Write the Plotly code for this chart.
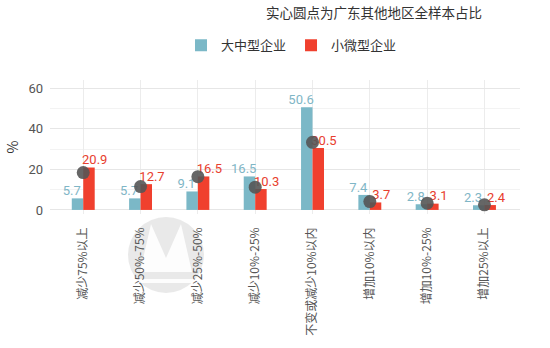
import numpy as np
import plotly.graph_objects as go

# Categories (change range of revenue) and series values, in %
categories = ["减少75%以上", "减少50%-75%", "减少25%-50%", "减少10%-25%",
              "不变或减少10%以内", "增加10%以内", "增加10%-25%", "增加25%以上"]
large_medium = [5.7, 5.7, 9.1, 16.5, 50.6, 7.4, 2.8, 2.3]
small_micro = [20.9, 12.7, 16.5, 10.3, 30.5, 3.7, 3.1, 2.4]
# Whole-sample share for other regions of Guangdong (solid dots)
other_regions = [18.4, 11.5, 16.4, 11.2, 33.3, 4.1, 3.3, 2.5]
y_ticks = [0, 20, 40, 60]

BLUE = "#7bb8c7"
RED = "#f0402e"
BLUE_TXT = "#7fb6c6"
RED_TXT = "#e8402e"
DOT = "#555555"

x = np.arange(len(categories))
CJK = "Noto Sans CJK SC"
NUM = "Roboto"

fig = go.Figure()
fig.add_trace(go.Bar(x=x, y=large_medium, name="大中型企业", marker_color=BLUE,
                     marker_line_width=0, hoverinfo="skip"))
fig.add_trace(go.Bar(x=x, y=small_micro, name="小微型企业", marker_color=RED,
                     marker_line_width=0, hoverinfo="skip"))

# value labels, dodged slightly wider than the bars
fig.add_trace(go.Scatter(x=x - 0.2, y=large_medium, mode="text",
                         text=[f"{v:g}" for v in large_medium], textposition="top center",
                         textfont=dict(color=BLUE_TXT, size=13, family=NUM),
                         showlegend=False, hoverinfo="skip"))
fig.add_trace(go.Scatter(x=x + 0.2, y=small_micro, mode="text",
                         text=[f"{v:g}" for v in small_micro], textposition="top center",
                         textfont=dict(color=RED_TXT, size=13, family=NUM),
                         showlegend=False, hoverinfo="skip"))

fig.add_trace(go.Scatter(x=x, y=other_regions, mode="markers",
                         marker=dict(color=DOT, size=13, opacity=0.9),
                         showlegend=False, hoverinfo="skip"))

# faint round "M" logo watermark behind the axis labels (positions in paper units)
def px(X):
    return (X - 50) / 470


def py(Y):
    return (214 - Y) / 134


fig.add_shape(type="circle", xref="paper", yref="paper",
              x0=px(128), x1=px(204), y0=py(293), y1=py(217),
              fillcolor="rgba(215,215,215,0.55)", line_width=0, layer="below")
m_pts = [(140, 272), (151, 224), (166, 258), (181, 224), (192, 272)]
m_path = "M " + " L ".join(f"{px(a):.4f},{py(b):.4f}" for a, b in m_pts) + " Z"
fig.add_shape(type="path", xref="paper", yref="paper", path=m_path,
              fillcolor="rgba(255,255,255,0.9)", line_width=0, layer="below")
fig.add_shape(type="rect", xref="paper", yref="paper",
              x0=px(134), x1=px(198), y0=py(283), y1=py(279),
              fillcolor="rgba(255,255,255,0.9)", line_width=0, layer="below")

fig.add_annotation(text="实心圆点为广东其他地区全样本占比", xref="paper", yref="paper",
                   x=0.923, y=1.51, xanchor="right", yanchor="middle", showarrow=False,
                   font=dict(family=CJK, size=13.5, color="#333333"))

fig.update_layout(
    width=550, height=348,
    margin=dict(l=50, r=30, t=80, b=134),
    paper_bgcolor="white", plot_bgcolor="white",
    barmode="group", bargap=0.6, bargroupgap=0,
    font=dict(family=CJK, color="#555555"),
    legend=dict(orientation="h", xref="container", yref="container",
                x=0.53, y=0.87, xanchor="center", yanchor="middle",
                font=dict(family=CJK, size=13, color="#333333"),
                itemwidth=30, traceorder="normal"),
    xaxis=dict(range=[-0.58, 7.62], tickvals=list(x), ticktext=categories,
               tickangle=-90, showgrid=True, gridcolor="#ececec", zeroline=False,
               ticks="", ticklabelstandoff=10,
               tickfont=dict(family=CJK, size=12, color="#555555"),
               showline=False),
    yaxis=dict(range=[-2, 64], tickvals=y_ticks, showgrid=True, gridcolor="#e6e6e6",
               zeroline=False, ticks="", ticklabelstandoff=6,
               tickfont=dict(family=NUM, size=13, color="#555555"),
               title=dict(text="%", font=dict(size=14, color="#333333"), standoff=6),
               minor=dict(dtick=10, tick0=0, showgrid=True, gridcolor="#f3f3f3")),
)

fig.write_html("out.html")
